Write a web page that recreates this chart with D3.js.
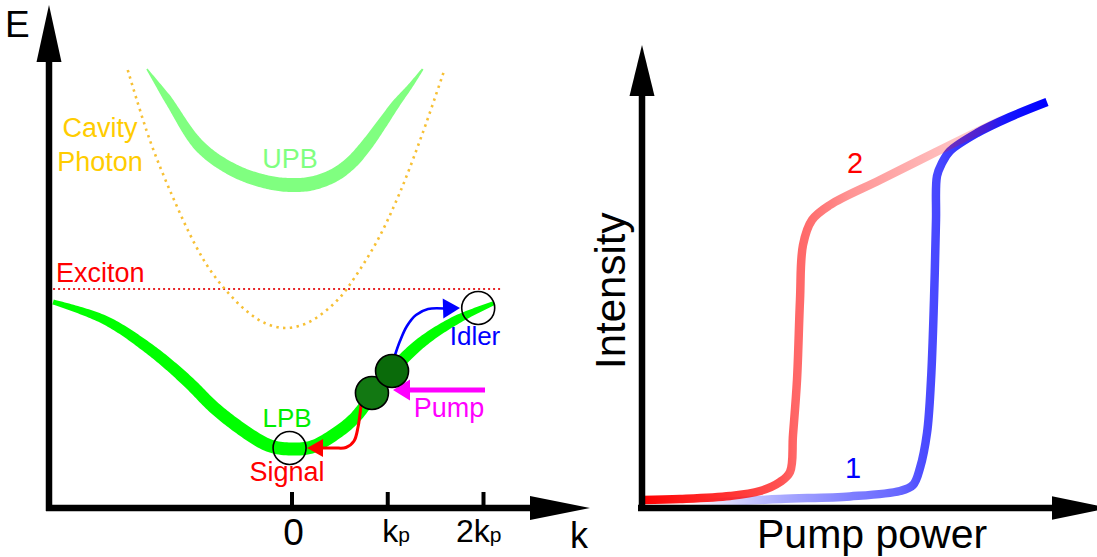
<!DOCTYPE html>
<html>
<head>
<meta charset="utf-8">
<script src="https://cdn.jsdelivr.net/npm/d3@7"></script>
<style>
  body { margin: 0; background: #fff; }
  svg { display: block; font-family: "Liberation Sans", Arial, sans-serif; }
</style>
</head>
<body>
<svg id="chart" width="1097" height="557"></svg>
<script>
// ---- left panel: polariton dispersion (k in units of kp, E arbitrary) ----
const kTicks = [0, 1, 2];
const kTickLabels = [['0', ''], ['k', 'p'], ['2k', 'p']];

const lpbK = [-2.49, -1.95, -1.47, -1.10, -0.78, -0.40, -0.22, -0.02, 0.21, 0.47, 0.66, 0.84, 1.06, 1.35, 1.72, 2.12];
const lpbE = [4.12, 3.76, 3.16, 2.56, 1.96, 1.42, 1.24, 1.18, 1.22, 1.50, 1.80, 2.24, 2.76, 3.30, 3.76, 4.10];
const lpbWidth = [0.10, 0.18, 0.22, 0.24, 0.25, 0.26, 0.26, 0.26, 0.26, 0.25, 0.24, 0.24, 0.24, 0.22, 0.18, 0.08];

const upbK = [-1.51, -1.30, -0.96, -0.61, -0.26, -0.02, 0.21, 0.45, 0.63, 0.80, 0.95, 1.09, 1.24, 1.37];
const upbE = [8.78, 8.20, 7.24, 6.76, 6.52, 6.46, 6.49, 6.66, 6.92, 7.30, 7.70, 8.08, 8.44, 8.78];
const upbWidth = [0.03, 0.16, 0.24, 0.26, 0.27, 0.28, 0.28, 0.27, 0.26, 0.24, 0.21, 0.17, 0.10, 0.04];

const cavityK = [-1.71, -1.48, -1.24, -1.01, -0.85, -0.66, -0.47, -0.28, -0.07, 0.14, 0.33, 0.51, 0.67, 0.90, 1.13, 1.37, 1.60];
const cavityE = [8.76, 7.36, 6.22, 5.28, 4.76, 4.30, 3.94, 3.70, 3.60, 3.68, 3.90, 4.22, 4.64, 5.36, 6.30, 7.50, 8.78];

const excitonE = 4.38;
const excitonK = [-2.49, 2.20];

// states on the LPB: [k, E]
const signalState = [-0.02, 1.20];
const idlerState = [1.95, 4.00];
const pumpStates = [[0.84, 2.30], [1.05, 2.74]];

// scattering arrows, last point is the tip
const signalPath = [[0.726, 2.06], [0.695, 1.62], [0.653, 1.34], [0.569, 1.21], [0.454, 1.20], [0.162, 1.20]];
const idlerPath = [[1.081, 3.06], [1.133, 3.34], [1.206, 3.64], [1.300, 3.86], [1.426, 3.98], [1.760, 4.00]];
const pumpPath = [[2.021, 2.36], [1.060, 2.36]];

// ---- right panel: intensity vs pump power (arbitrary units) ----
const curve2 = [[0.02, 0.20], [0.95, 0.225], [2.2, 0.30], [2.95, 0.425], [3.45, 0.65], [3.7, 0.90], [3.775, 1.825],
  [3.875, 3.20], [3.95, 5.20], [4.025, 6.575], [4.25, 7.20], [4.7, 7.575], [5.95, 8.20], [7.7, 9.075], [9.075, 9.75]];
const curve1 = [[1.2, 0.10], [2.025, 0.15], [3.45, 0.225], [5.2, 0.29], [6.45, 0.425], [6.775, 0.575], [6.95, 1.0],
  [7.125, 1.875], [7.225, 3.20], [7.3, 5.20], [7.35, 7.20], [7.375, 8.30], [7.5, 8.625], [7.7, 8.925], [8.375, 9.375], [9.2, 9.775], [10.125, 10.15]];

// opacity along pump power for the two branches
const fade2 = [[0, 1], [1, 0.9], [2.2, 0.8], [3.45, 0.68], [3.8, 0.6], [4.1, 0.58], [4.7, 0.5], [5.2, 0.42], [7.7, 0.25], [8.6, 0.16], [9.1, 0]];
const fade1 = [[1.2, 0], [2.0, 0.12], [3.45, 0.33], [5.2, 0.5], [6.45, 0.6], [7.0, 0.7], [7.4, 0.72], [8.0, 0.8], [9.1, 0.92], [10.1, 1]];

const svg = d3.select('#chart');

const xK = d3.scaleLinear().domain([0, 2]).range([291.5, 483]);
const yE = d3.scaleLinear().domain([0, 10]).range([508, 8]);
const xP = d3.scaleLinear().domain([0, 10]).range([642, 1042]);
const yI = d3.scaleLinear().domain([0, 10]).range([508, 108]);

const pxE = Math.abs(yE(1) - yE(0));

function arrow(g, pts, opt) {
    const tip = pts[pts.length - 1], prev = pts[pts.length - 2];
    const dx = tip[0] - prev[0], dy = tip[1] - prev[1], l = Math.hypot(dx, dy);
    const ux = dx / l, uy = dy / l;
    const base = [tip[0] - ux * opt.len, tip[1] - uy * opt.len];
    const lineEnd = [base[0] + ux * 1, base[1] + uy * 1];
    g.append('path')
        .attr('d', d3.line().curve(opt.curve || d3.curveLinear)(pts.slice(0, -1).concat([lineEnd])))
        .attr('fill', 'none').attr('stroke', opt.color).attr('stroke-width', opt.width)
        .attr('stroke-linecap', opt.cap || 'butt');
    g.append('path')
        .attr('d', d3.line()([tip, [base[0] - uy * opt.half, base[1] + ux * opt.half], [base[0] + uy * opt.half, base[1] - ux * opt.half]]) + 'Z')
        .attr('fill', opt.color);
}

// tapered band round a centre line, width given in E units
function band(pts, widths) {
    const tmp = svg.append('path').attr('d', d3.line().curve(d3.curveCatmullRom.alpha(0.5))(pts));
    const node = tmp.node();
    const len = node.getTotalLength();
    const n = 240;
    const samples = d3.range(n + 1).map(i => node.getPointAtLength(len * i / n));
    tmp.remove();
    const wAt = d3.scaleLinear().domain(pts.map(p => p[0])).range(widths.map(w => w * pxE)).clamp(true);
    const a = [], b = [];
    samples.forEach((p, i) => {
        const p0 = samples[Math.max(0, i - 1)], p1 = samples[Math.min(n, i + 1)];
        const dx = p1.x - p0.x, dy = p1.y - p0.y, l = Math.hypot(dx, dy) || 1;
        const nx = -dy / l, ny = dx / l, w = wAt(p.x) / 2;
        a.push([p.x + nx * w, p.y + ny * w]);
        b.push([p.x - nx * w, p.y - ny * w]);
    });
    return d3.line()(a.concat(b.reverse())) + 'Z';
}

// ---------- left panel ----------
const left = svg.append('g');

const kLine = d3.line().x(d => xK(d[0])).y(d => yE(d[1])).curve(d3.curveCatmullRom.alpha(0.5));

left.append('line')
    .attr('x1', xK(excitonK[0])).attr('x2', xK(excitonK[1]))
    .attr('y1', yE(excitonE)).attr('y2', yE(excitonE))
    .attr('stroke', '#e8262a').attr('stroke-width', 2).attr('stroke-dasharray', '2,3');

left.append('path')
    .attr('d', kLine(d3.zip(cavityK, cavityE)))
    .attr('fill', 'none').attr('stroke', '#f7c035').attr('stroke-width', 2.6)
    .attr('stroke-dasharray', '2.4,4.4');

left.append('path')
    .attr('d', band(d3.zip(upbK, upbE).map(d => [xK(d[0]), yE(d[1])]), upbWidth))
    .attr('fill', '#80ff80');

left.append('path')
    .attr('d', band(d3.zip(lpbK, lpbE).map(d => [xK(d[0]), yE(d[1])]), lpbWidth))
    .attr('fill', '#00ff00');

const toPx = d => [xK(d[0]), yE(d[1])];
arrow(left, signalPath.map(toPx), { color: '#ff0000', width: 3, len: 16, half: 9, curve: d3.curveCatmullRom.alpha(0.5) });
arrow(left, idlerPath.map(toPx), { color: '#0000ff', width: 2.6, len: 17, half: 10, curve: d3.curveCatmullRom.alpha(0.5) });
arrow(left, pumpPath.map(toPx), { color: '#ff00ff', width: 5, len: 17, half: 10.5 });

left.selectAll('.state')
    .data([signalState, idlerState])
    .join('circle').attr('class', 'state')
    .attr('cx', d => xK(d[0])).attr('cy', d => yE(d[1])).attr('r', 16.5)
    .attr('fill', 'none').attr('stroke', '#000').attr('stroke-width', 1.6);

left.selectAll('.pump')
    .data(pumpStates)
    .join('circle').attr('class', 'pump')
    .attr('cx', d => xK(d[0])).attr('cy', d => yE(d[1])).attr('r', 16.5)
    .attr('fill', (d, i) => i ? '#0a6b0a' : '#127812').attr('stroke', '#000').attr('stroke-width', 1.6);

// axes
arrow(left, [[49, 511], [49, 5]], { color: '#000', width: 6.5, len: 57, half: 12.5 });
arrow(left, [[46, 508], [590, 508]], { color: '#000', width: 6.5, len: 60, half: 12 });

const kAxis = left.append('g')
    .attr('transform', `translate(0,${yE(0)})`)
    .call(d3.axisBottom(xK).tickValues(kTicks).tickSizeInner(-16).tickSizeOuter(0).tickFormat(''));
kAxis.select('.domain').remove();
kAxis.selectAll('.tick line').attr('stroke', '#000').attr('stroke-width', 4);
kAxis.selectAll('.tick text').remove();

const tickLab = left.selectAll('.klab')
    .data(kTicks)
    .join('text').attr('class', 'klab')
    .attr('x', (d, i) => xK(d) + [2, -5, -27][i])
    .attr('y', (d, i) => [545, 542, 542][i])
    .attr('text-anchor', (d, i) => i ? 'start' : 'middle')
    .attr('font-size', (d, i) => i ? 32 : 37);
tickLab.append('tspan').text((d, i) => kTickLabels[i][0]);
tickLab.append('tspan').attr('font-size', 21).text((d, i) => kTickLabels[i][1]);

const labels = [
    { t: 'E', x: 5, y: 37, s: 37, c: '#000', a: 'start' },
    { t: 'k', x: 570, y: 548, s: 36, c: '#000', a: 'start' },
    { t: 'Cavity', x: 100, y: 137, s: 27, c: '#ffcc00', a: 'middle' },
    { t: 'Photon', x: 100, y: 171, s: 27, c: '#ffcc00', a: 'middle' },
    { t: 'UPB', x: 290, y: 168, s: 27, c: '#80ff80', a: 'middle' },
    { t: 'Exciton', x: 56, y: 282, s: 27, c: '#ff0000', a: 'start' },
    { t: 'LPB', x: 287, y: 427, s: 26, c: '#00ee00', a: 'middle' },
    { t: 'Signal', x: 287, y: 481, s: 27, c: '#ff0000', a: 'middle' },
    { t: 'Idler', x: 475, y: 345, s: 26, c: '#0000ff', a: 'middle' },
    { t: 'Pump', x: 449, y: 417, s: 27, c: '#ff00ff', a: 'middle' }
];
left.selectAll('.lab')
    .data(labels)
    .join('text').attr('class', 'lab')
    .attr('x', d => d.x).attr('y', d => d.y)
    .attr('font-size', d => d.s).attr('fill', d => d.c).attr('text-anchor', d => d.a)
    .text(d => d.t);

// ---------- right panel ----------
const right = svg.append('g');
const defs = svg.append('defs');

function fadeGradient(id, color, stops) {
    const x1 = xP(0), x2 = xP(10.2);
    const g = defs.append('linearGradient').attr('id', id)
        .attr('gradientUnits', 'userSpaceOnUse')
        .attr('x1', x1).attr('x2', x2).attr('y1', 0).attr('y2', 0);
    g.selectAll('stop').data(stops).join('stop')
        .attr('offset', d => (xP(d[0]) - x1) / (x2 - x1))
        .attr('stop-color', color).attr('stop-opacity', d => d[1]);
}
fadeGradient('fade1', '#0000ff', fade1);
fadeGradient('fade2', '#ff0000', fade2);

const pLine = d3.line().x(d => xP(d[0])).y(d => yI(d[1])).curve(d3.curveCatmullRom.alpha(0.5));

right.append('path').attr('d', pLine(curve1))
    .attr('fill', 'none').attr('stroke', 'url(#fade1)').attr('stroke-width', 8.5).attr('stroke-linejoin', 'round');
right.append('path').attr('d', pLine(curve2))
    .attr('fill', 'none').attr('stroke', 'url(#fade2)').attr('stroke-width', 8.5).attr('stroke-linejoin', 'round');

arrow(right, [[642, 511], [642, 45]], { color: '#000', width: 6.5, len: 51, half: 12.5 });
arrow(right, [[638, 508], [1109, 508]], { color: '#000', width: 6.5, len: 57, half: 11.7 });

right.append('text').attr('x', 757).attr('y', 548).attr('font-size', 41).text('Pump power');
right.append('text').attr('transform', 'translate(625,369) rotate(-90)').attr('font-size', 42).text('Intensity');
right.append('text').attr('x', 855).attr('y', 173).attr('font-size', 29).attr('fill', '#ff0000').attr('text-anchor', 'middle').text('2');
right.append('text').attr('x', 853).attr('y', 478).attr('font-size', 29).attr('fill', '#0000ff').attr('text-anchor', 'middle').text('1');
</script>
</body>
</html>
